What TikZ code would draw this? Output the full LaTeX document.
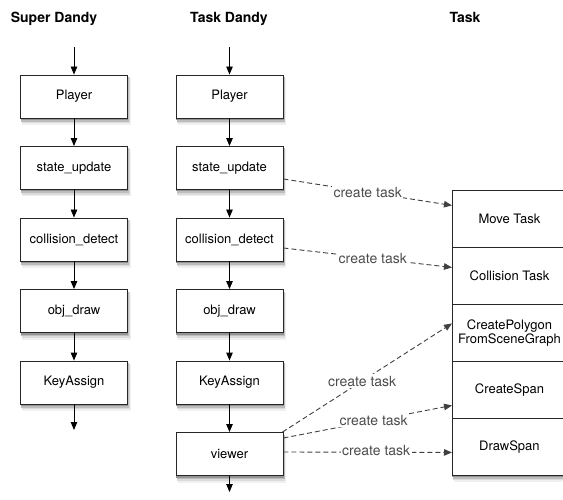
\documentclass[tikz,border=0pt]{standalone}
\usepackage{fontspec}
\setmainfont{TeX Gyre Heros}
\usetikzlibrary{arrows.meta}
\begin{document}
\begin{tikzpicture}[x=1pt,y=-1pt,
  proc/.style={draw=black!85, line width=0.9pt, fill=white, minimum width=107pt,
    minimum height=43pt, inner sep=0pt, font=\fontsize{13}{15}\selectfont},
  cell/.style={draw=black!85, line width=0.9pt, fill=white, minimum width=114pt,
    minimum height=57pt, inner sep=0pt, anchor=north west, align=center,
    font=\fontsize{13}{14.5}\selectfont},
  title/.style={font=\bfseries\fontsize{14}{16}\selectfont, anchor=base},
  flow/.style={line width=0.9pt, -{Triangle[length=8pt,width=6.5pt]}},
  dsh/.style={draw=black!75, line width=0.9pt, dash pattern=on 5pt off 3pt,
    -{Triangle[length=8pt,width=6.5pt]}},
  lab/.style={fill=white, text=black!70, inner sep=1.5pt, font=\fontsize{14}{16}\selectfont}]
\fill[white] (0,0) rectangle (563,500);
\useasboundingbox (0,0) rectangle (563,500);

% soft shadows, drawn first (left/top/right/bottom edges in px, y down)
\foreach \l/\t/\r/\b in {20.5/75/127.5/118, 20.5/146.5/127.5/189.5, 20.5/218/127.5/261,
    20.5/289.5/127.5/332.5, 20.5/361/127.5/404,
    176/75/283/118, 176/146.5/283/189.5, 176/218/283/261, 176/289.5/283/332.5,
    176/361/283/404, 176/432.5/283/475.5, 452/190/566/475} {
  \fill[black!6]  (\l+1.5,\t+3) rectangle (\r+3,\b+7);
  \fill[black!14] (\l+1,\t+2.5) rectangle (\r+2.2,\b+5.2);
  \fill[black!26] (\l+0.5,\t+2) rectangle (\r+1.5,\b+3.6);
  \fill[black!42] (\l,\t+1) rectangle (\r+0.8,\b+2);
}

% titles
\node[title] (t1) at (54,22.5) {Super Dandy};
\node[title] (t2) at (229,22.5) {Task Dandy};
\node[title] (t3) at (465,22.5) {Task};

% left column
\node[proc] (a1) at (74,96.5) {Player};
\node[proc] (a2) at (74,168) {state\_update};
\node[proc] (a3) at (74,239.5) {collision\_detect};
\node[proc] (a4) at (74,311) {obj\_draw};
\node[proc] (a5) at (74,382.5) {KeyAssign};
\coordinate (ain) at (74,47);
\coordinate (aout) at (74,430);
\draw[flow] (ain) -- (a1);
\draw[flow] (a1) -- (a2);
\draw[flow] (a2) -- (a3);
\draw[flow] (a3) -- (a4);
\draw[flow] (a4) -- (a5);
\draw[flow] (a5) -- (aout);

% middle column
\node[proc] (b1) at (229.5,96.5) {Player};
\node[proc] (b2) at (229.5,168) {state\_update};
\node[proc] (b3) at (229.5,239.5) {collision\_detect};
\node[proc] (b4) at (229.5,311) {obj\_draw};
\node[proc] (b5) at (229.5,382.5) {KeyAssign};
\node[proc] (b6) at (229.5,454) {viewer};
\coordinate (bin) at (229.5,47);
\coordinate (bout) at (229.5,492);
\draw[flow] (bin) -- (b1);
\draw[flow] (b1) -- (b2);
\draw[flow] (b2) -- (b3);
\draw[flow] (b3) -- (b4);
\draw[flow] (b4) -- (b5);
\draw[flow] (b5) -- (b6);
\draw[flow] (b6) -- (bout);

% task stack
\node[cell] (c1) at (452,190) {Move Task};
\node[cell] (c2) at (452,247) {Collision Task};
\node[cell] (c3) at (452,304) {CreatePolygon\\FromSceneGraph};
\node[cell] (c4) at (452,361) {CreateSpan};
\node[cell] (c5) at (452,418) {DrawSpan};

% create task arrows
\draw[dsh] ([yshift=-11pt]b2.east) -- node[lab, pos=0.5] {create task} ([yshift=13.5pt]c1.west);
\draw[dsh] ([yshift=-8.5pt]b3.east) -- node[lab, pos=0.53] {create task} ([yshift=8.5pt]c2.west);
\draw[dsh] ([xshift=-1pt]b6.north east) -- node[lab, pos=0.47] {create task} ([yshift=9.5pt]c3.west);
\draw[dsh] ([yshift=16pt]b6.east) -- node[lab, pos=0.535] {create task} ([yshift=-15.5pt]c4.west);
\draw[dsh] ([yshift=2pt]b6.east) -- node[lab, pos=0.55, yshift=2pt] {create task} ([yshift=-5.5pt]c5.west);
\end{tikzpicture}
\end{document}
